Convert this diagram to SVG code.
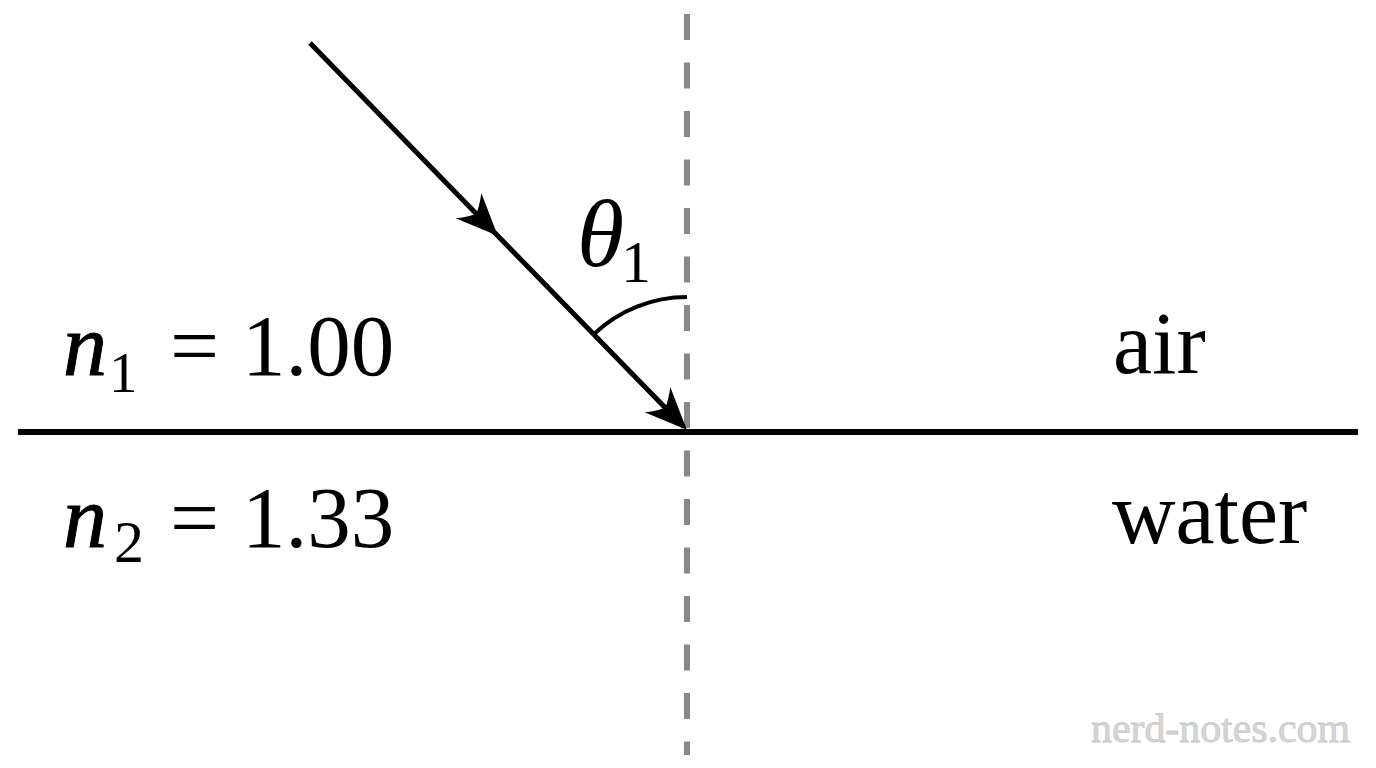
<svg xmlns="http://www.w3.org/2000/svg" width="1376" height="768" viewBox="0 0 1376 768">
<style>
.t{font-family:"Liberation Serif","Times New Roman",serif;fill:#000}
.it{font-style:italic}
.wm{font-family:"Liberation Serif","DejaVu Serif",serif;fill:#d6d6d6;stroke:#c8c8c8;stroke-width:0.8}
</style>
<defs>
<marker id="ah" markerUnits="userSpaceOnUse" orient="auto" refX="0" refY="0" markerWidth="60" markerHeight="60" viewBox="-50 -30 60 60" overflow="visible">
<path d="M4,0 L-38,-18 Q-29,-6 -27,0 Q-29,6 -38,18 Z" fill="#000"/>
</marker>
</defs>
<rect width="1376" height="768" fill="#fff"/>
<g id="connectors">
<line id="normal" x1="687" y1="14" x2="687" y2="755" stroke="#888" stroke-width="6" stroke-dasharray="26 22.5"/>
<line id="interface" x1="18" y1="432" x2="1358" y2="432" stroke="#000" stroke-width="6"/>
<path id="ray" d="M310,43 L495,233 L684,427" fill="none" stroke="#000" stroke-width="5" marker-mid="url(#ah)" marker-end="url(#ah)"/>
<path id="angle-arc" d="M687,297 A135,135 0 0 0 594,334" fill="none" stroke="#000" stroke-width="4"/>
</g>
<g id="theta-label">
<text class="t it" x="577" y="266" font-size="96">θ</text>
<text class="t" x="621" y="282" font-size="60">1</text>
</g>
<g id="n1-label">
<text class="t it" x="63" y="375" font-size="88" stroke="#000" stroke-width="1">n</text>
<text class="t" x="109" y="392" font-size="57">1</text>
<text class="t" x="170" y="375" font-size="87">=</text>
<text class="t" x="242" y="375" font-size="87">1.00</text>
</g>
<g id="n2-label">
<text class="t it" x="63" y="547" font-size="88" stroke="#000" stroke-width="1">n</text>
<text class="t" x="114" y="562" font-size="60">2</text>
<text class="t" x="170" y="547" font-size="87">=</text>
<text class="t" x="242" y="547" font-size="87">1.33</text>
</g>
<g id="air-label">
<text class="t" x="1113" y="373" font-size="88">air</text>
</g>
<g id="water-label">
<text class="t" x="1112" y="543" font-size="88">water</text>
</g>
<g id="watermark">
<text class="wm" x="1091" y="742" font-size="41" textLength="259" lengthAdjust="spacingAndGlyphs">nerd-notes.com</text>
</g>
</svg>
